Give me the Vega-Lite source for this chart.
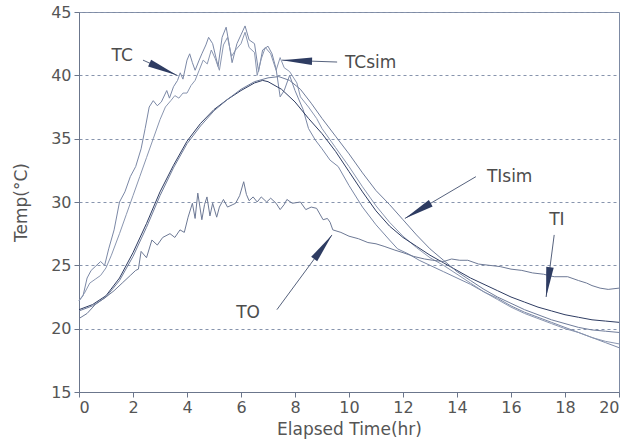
{
  "$schema": "https://vega.github.io/schema/vega-lite/v6.json",
  "width": 540,
  "height": 380,
  "autosize": "none",
  "padding": {"left": 79, "top": 12, "right": 14, "bottom": 56},
  "background": "#ffffff",
  "config": {
    "font": "DejaVu Sans",
    "view": {"stroke": "#7d8aa3", "strokeWidth": 1},
    "axis": {"labelColor": "#555555", "titleColor": "#555555", "domainColor": "#6b768c", "tickColor": "#6b768c", "labelFontSize": 16, "titleFontSize": 17, "titleFontWeight": "normal", "labelFont": "DejaVu Sans", "titleFont": "DejaVu Sans"}
  },
  "datasets": {
    "series": [
      {"s":"TC","x":0,"y":22.2},{"s":"TC","x":0.15,"y":22.6},{"s":"TC","x":0.3,"y":24.0},{"s":"TC","x":0.45,"y":24.6},{"s":"TC","x":0.6,"y":24.9},{"s":"TC","x":0.8,"y":25.3},{"s":"TC","x":0.95,"y":25.0},{"s":"TC","x":1.1,"y":26.3},{"s":"TC","x":1.3,"y":27.8},{"s":"TC","x":1.5,"y":30.0},{"s":"TC","x":1.7,"y":30.8},{"s":"TC","x":1.9,"y":32.0},{"s":"TC","x":2.1,"y":32.8},{"s":"TC","x":2.3,"y":34.2},{"s":"TC","x":2.45,"y":35.8},{"s":"TC","x":2.6,"y":37.5},{"s":"TC","x":2.75,"y":38.0},{"s":"TC","x":2.9,"y":37.6},{"s":"TC","x":3.05,"y":37.9},{"s":"TC","x":3.25,"y":38.8},{"s":"TC","x":3.35,"y":38.2},{"s":"TC","x":3.5,"y":39.1},{"s":"TC","x":3.65,"y":39.6},{"s":"TC","x":3.75,"y":40.2},{"s":"TC","x":3.85,"y":39.7},{"s":"TC","x":4.0,"y":41.2},{"s":"TC","x":4.1,"y":41.7},{"s":"TC","x":4.2,"y":41.0},{"s":"TC","x":4.3,"y":40.4},{"s":"TC","x":4.45,"y":41.2},{"s":"TC","x":4.55,"y":41.7},{"s":"TC","x":4.7,"y":42.4},{"s":"TC","x":4.8,"y":43.0},{"s":"TC","x":4.95,"y":42.5},{"s":"TC","x":5.05,"y":41.6},{"s":"TC","x":5.15,"y":40.7},{"s":"TC","x":5.3,"y":43.0},{"s":"TC","x":5.45,"y":43.8},{"s":"TC","x":5.55,"y":42.6},{"s":"TC","x":5.67,"y":41.0},{"s":"TC","x":5.85,"y":42.5},{"s":"TC","x":6.0,"y":43.2},{"s":"TC","x":6.15,"y":43.9},{"s":"TC","x":6.3,"y":42.8},{"s":"TC","x":6.5,"y":42.5},{"s":"TC","x":6.65,"y":40.3},{"s":"TC","x":6.8,"y":42.0},{"s":"TC","x":7.0,"y":42.3},{"s":"TC","x":7.15,"y":41.7},{"s":"TC","x":7.3,"y":40.5},{"s":"TC","x":7.45,"y":38.3},{"s":"TC","x":7.6,"y":38.8},{"s":"TC","x":7.8,"y":40.0},{"s":"TC","x":8.0,"y":38.8},{"s":"TC","x":8.3,"y":37.3},{"s":"TC","x":8.5,"y":35.8},{"s":"TC","x":8.75,"y":34.9},{"s":"TC","x":9.0,"y":34.2},{"s":"TC","x":9.3,"y":33.3},{"s":"TC","x":9.6,"y":32.8},{"s":"TC","x":10.0,"y":31.3},{"s":"TC","x":10.5,"y":29.6},{"s":"TC","x":11.0,"y":28.2},{"s":"TC","x":11.5,"y":27.0},{"s":"TC","x":11.8,"y":26.3},{"s":"TC","x":12.2,"y":25.9},{"s":"TC","x":12.6,"y":25.4},{"s":"TC","x":13.0,"y":25.0},{"s":"TC","x":13.5,"y":24.5},{"s":"TC","x":14.0,"y":24.0},{"s":"TC","x":14.5,"y":23.5},{"s":"TC","x":15.0,"y":22.9},{"s":"TC","x":15.5,"y":22.4},{"s":"TC","x":16.0,"y":21.8},{"s":"TC","x":16.5,"y":21.3},{"s":"TC","x":17.0,"y":20.9},{"s":"TC","x":17.5,"y":20.5},{"s":"TC","x":18.0,"y":20.1},{"s":"TC","x":18.5,"y":19.7},{"s":"TC","x":19.0,"y":19.3},{"s":"TC","x":19.5,"y":18.9},{"s":"TC","x":20.0,"y":18.5},
      {"s":"TCsim","x":0,"y":22.2},{"s":"TCsim","x":0.2,"y":22.8},{"s":"TCsim","x":0.4,"y":23.6},{"s":"TCsim","x":0.6,"y":23.9},{"s":"TCsim","x":0.8,"y":24.2},{"s":"TCsim","x":1.0,"y":24.8},{"s":"TCsim","x":1.2,"y":25.8},{"s":"TCsim","x":1.5,"y":27.5},{"s":"TCsim","x":1.75,"y":29.0},{"s":"TCsim","x":2.0,"y":30.5},{"s":"TCsim","x":2.25,"y":32.0},{"s":"TCsim","x":2.5,"y":33.5},{"s":"TCsim","x":2.75,"y":35.0},{"s":"TCsim","x":3.0,"y":36.5},{"s":"TCsim","x":3.2,"y":37.5},{"s":"TCsim","x":3.4,"y":38.0},{"s":"TCsim","x":3.55,"y":38.4},{"s":"TCsim","x":3.7,"y":38.2},{"s":"TCsim","x":3.85,"y":38.6},{"s":"TCsim","x":4.0,"y":38.6},{"s":"TCsim","x":4.15,"y":39.2},{"s":"TCsim","x":4.3,"y":39.6},{"s":"TCsim","x":4.45,"y":40.4},{"s":"TCsim","x":4.6,"y":41.2},{"s":"TCsim","x":4.75,"y":40.9},{"s":"TCsim","x":4.9,"y":42.0},{"s":"TCsim","x":5.05,"y":41.3},{"s":"TCsim","x":5.2,"y":40.4},{"s":"TCsim","x":5.35,"y":42.4},{"s":"TCsim","x":5.5,"y":43.0},{"s":"TCsim","x":5.65,"y":41.5},{"s":"TCsim","x":5.8,"y":42.0},{"s":"TCsim","x":6.0,"y":42.5},{"s":"TCsim","x":6.15,"y":43.4},{"s":"TCsim","x":6.3,"y":42.2},{"s":"TCsim","x":6.5,"y":41.8},{"s":"TCsim","x":6.6,"y":40.0},{"s":"TCsim","x":6.75,"y":41.3},{"s":"TCsim","x":6.9,"y":42.2},{"s":"TCsim","x":7.1,"y":41.7},{"s":"TCsim","x":7.3,"y":40.4},{"s":"TCsim","x":7.45,"y":41.4},{"s":"TCsim","x":7.6,"y":40.6},{"s":"TCsim","x":7.8,"y":40.3},{"s":"TCsim","x":8.07,"y":39.4},{"s":"TCsim","x":8.2,"y":38.3},{"s":"TCsim","x":8.5,"y":37.5},{"s":"TCsim","x":8.8,"y":36.6},{"s":"TCsim","x":9.0,"y":35.8},{"s":"TCsim","x":9.5,"y":34.3},{"s":"TCsim","x":10.0,"y":32.8},{"s":"TCsim","x":10.5,"y":31.2},{"s":"TCsim","x":11.0,"y":29.7},{"s":"TCsim","x":11.5,"y":28.4},{"s":"TCsim","x":12.0,"y":27.3},{"s":"TCsim","x":12.5,"y":26.4},{"s":"TCsim","x":13.0,"y":25.6},{"s":"TCsim","x":13.5,"y":25.0},{"s":"TCsim","x":14.0,"y":24.3},{"s":"TCsim","x":14.5,"y":23.6},{"s":"TCsim","x":15.0,"y":22.9},{"s":"TCsim","x":15.5,"y":22.3},{"s":"TCsim","x":16.0,"y":21.7},{"s":"TCsim","x":16.5,"y":21.2},{"s":"TCsim","x":17.0,"y":20.8},{"s":"TCsim","x":17.5,"y":20.4},{"s":"TCsim","x":18.0,"y":20.0},{"s":"TCsim","x":18.5,"y":19.7},{"s":"TCsim","x":19.0,"y":19.3},{"s":"TCsim","x":19.5,"y":19.0},{"s":"TCsim","x":20.0,"y":18.8},
      {"s":"TI","x":0,"y":21.5},{"s":"TI","x":0.5,"y":21.9},{"s":"TI","x":1.0,"y":22.6},{"s":"TI","x":1.5,"y":24.0},{"s":"TI","x":2.0,"y":26.0},{"s":"TI","x":2.5,"y":28.3},{"s":"TI","x":3.0,"y":30.8},{"s":"TI","x":3.5,"y":32.9},{"s":"TI","x":4.0,"y":34.8},{"s":"TI","x":4.5,"y":36.2},{"s":"TI","x":5.0,"y":37.3},{"s":"TI","x":5.5,"y":38.1},{"s":"TI","x":6.0,"y":38.8},{"s":"TI","x":6.5,"y":39.4},{"s":"TI","x":6.8,"y":39.6},{"s":"TI","x":7.0,"y":39.5},{"s":"TI","x":7.5,"y":38.9},{"s":"TI","x":8.0,"y":37.9},{"s":"TI","x":8.5,"y":36.6},{"s":"TI","x":9.0,"y":35.4},{"s":"TI","x":9.5,"y":34.0},{"s":"TI","x":10.0,"y":32.4},{"s":"TI","x":10.5,"y":30.8},{"s":"TI","x":11.0,"y":29.3},{"s":"TI","x":11.5,"y":28.1},{"s":"TI","x":12.0,"y":27.2},{"s":"TI","x":12.5,"y":26.5},{"s":"TI","x":13.0,"y":25.8},{"s":"TI","x":13.5,"y":25.2},{"s":"TI","x":14.0,"y":24.6},{"s":"TI","x":14.5,"y":24.0},{"s":"TI","x":15.0,"y":23.5},{"s":"TI","x":15.5,"y":23.0},{"s":"TI","x":16.0,"y":22.5},{"s":"TI","x":16.5,"y":22.1},{"s":"TI","x":17.0,"y":21.7},{"s":"TI","x":17.5,"y":21.4},{"s":"TI","x":18.0,"y":21.1},{"s":"TI","x":18.5,"y":20.9},{"s":"TI","x":19.0,"y":20.7},{"s":"TI","x":19.5,"y":20.6},{"s":"TI","x":20.0,"y":20.5},
      {"s":"TIsim","x":0,"y":21.4},{"s":"TIsim","x":0.5,"y":21.8},{"s":"TIsim","x":1.0,"y":22.5},{"s":"TIsim","x":1.5,"y":23.8},{"s":"TIsim","x":2.0,"y":25.7},{"s":"TIsim","x":2.5,"y":28.0},{"s":"TIsim","x":3.0,"y":30.5},{"s":"TIsim","x":3.5,"y":32.7},{"s":"TIsim","x":4.0,"y":34.6},{"s":"TIsim","x":4.5,"y":36.0},{"s":"TIsim","x":5.0,"y":37.2},{"s":"TIsim","x":5.5,"y":38.1},{"s":"TIsim","x":6.0,"y":38.9},{"s":"TIsim","x":6.5,"y":39.5},{"s":"TIsim","x":7.0,"y":39.8},{"s":"TIsim","x":7.4,"y":39.9},{"s":"TIsim","x":7.8,"y":39.6},{"s":"TIsim","x":8.2,"y":38.9},{"s":"TIsim","x":8.6,"y":37.8},{"s":"TIsim","x":9.0,"y":36.6},{"s":"TIsim","x":9.5,"y":35.2},{"s":"TIsim","x":10.0,"y":33.8},{"s":"TIsim","x":10.5,"y":32.3},{"s":"TIsim","x":11.0,"y":30.9},{"s":"TIsim","x":11.5,"y":29.8},{"s":"TIsim","x":12.0,"y":28.6},{"s":"TIsim","x":12.5,"y":27.4},{"s":"TIsim","x":13.0,"y":26.3},{"s":"TIsim","x":13.5,"y":25.4},{"s":"TIsim","x":14.0,"y":24.5},{"s":"TIsim","x":14.5,"y":23.8},{"s":"TIsim","x":15.0,"y":23.1},{"s":"TIsim","x":15.5,"y":22.5},{"s":"TIsim","x":16.0,"y":22.0},{"s":"TIsim","x":16.5,"y":21.5},{"s":"TIsim","x":17.0,"y":21.1},{"s":"TIsim","x":17.5,"y":20.7},{"s":"TIsim","x":18.0,"y":20.4},{"s":"TIsim","x":18.5,"y":20.1},{"s":"TIsim","x":19.0,"y":19.9},{"s":"TIsim","x":19.5,"y":19.8},{"s":"TIsim","x":20.0,"y":19.7},
      {"s":"TO","x":0,"y":20.8},{"s":"TO","x":0.3,"y":21.2},{"s":"TO","x":0.6,"y":21.9},{"s":"TO","x":1.0,"y":22.5},{"s":"TO","x":1.3,"y":23.0},{"s":"TO","x":1.6,"y":23.6},{"s":"TO","x":1.9,"y":24.2},{"s":"TO","x":2.1,"y":24.6},{"s":"TO","x":2.2,"y":24.7},{"s":"TO","x":2.3,"y":26.1},{"s":"TO","x":2.5,"y":25.6},{"s":"TO","x":2.7,"y":27.0},{"s":"TO","x":2.9,"y":26.6},{"s":"TO","x":3.1,"y":27.2},{"s":"TO","x":3.37,"y":27.5},{"s":"TO","x":3.55,"y":27.2},{"s":"TO","x":3.74,"y":27.8},{"s":"TO","x":3.9,"y":27.6},{"s":"TO","x":4.04,"y":28.8},{"s":"TO","x":4.2,"y":29.9},{"s":"TO","x":4.3,"y":28.7},{"s":"TO","x":4.4,"y":30.7},{"s":"TO","x":4.55,"y":28.6},{"s":"TO","x":4.65,"y":29.8},{"s":"TO","x":4.74,"y":30.4},{"s":"TO","x":4.85,"y":28.9},{"s":"TO","x":4.95,"y":29.9},{"s":"TO","x":5.1,"y":28.8},{"s":"TO","x":5.2,"y":29.6},{"s":"TO","x":5.35,"y":30.2},{"s":"TO","x":5.5,"y":29.6},{"s":"TO","x":5.7,"y":29.8},{"s":"TO","x":5.8,"y":29.9},{"s":"TO","x":5.95,"y":30.5},{"s":"TO","x":6.1,"y":31.6},{"s":"TO","x":6.2,"y":30.6},{"s":"TO","x":6.3,"y":30.1},{"s":"TO","x":6.45,"y":30.4},{"s":"TO","x":6.6,"y":30.0},{"s":"TO","x":6.75,"y":30.4},{"s":"TO","x":6.95,"y":30.0},{"s":"TO","x":7.1,"y":30.3},{"s":"TO","x":7.3,"y":29.9},{"s":"TO","x":7.45,"y":29.4},{"s":"TO","x":7.6,"y":29.8},{"s":"TO","x":7.7,"y":30.2},{"s":"TO","x":7.9,"y":29.9},{"s":"TO","x":8.2,"y":30.0},{"s":"TO","x":8.4,"y":29.4},{"s":"TO","x":8.6,"y":29.6},{"s":"TO","x":8.8,"y":29.5},{"s":"TO","x":9.04,"y":28.6},{"s":"TO","x":9.2,"y":28.7},{"s":"TO","x":9.3,"y":28.4},{"s":"TO","x":9.4,"y":27.8},{"s":"TO","x":9.7,"y":27.6},{"s":"TO","x":10.0,"y":27.3},{"s":"TO","x":10.35,"y":27.1},{"s":"TO","x":10.7,"y":26.8},{"s":"TO","x":11.0,"y":26.7},{"s":"TO","x":11.3,"y":26.5},{"s":"TO","x":11.7,"y":26.2},{"s":"TO","x":12.0,"y":26.0},{"s":"TO","x":12.4,"y":25.7},{"s":"TO","x":12.8,"y":25.5},{"s":"TO","x":13.1,"y":25.4},{"s":"TO","x":13.5,"y":25.3},{"s":"TO","x":13.8,"y":25.5},{"s":"TO","x":14.1,"y":25.4},{"s":"TO","x":14.4,"y":25.4},{"s":"TO","x":14.8,"y":25.1},{"s":"TO","x":15.2,"y":25.0},{"s":"TO","x":15.6,"y":24.9},{"s":"TO","x":16.0,"y":24.7},{"s":"TO","x":16.4,"y":24.6},{"s":"TO","x":16.8,"y":24.4},{"s":"TO","x":17.2,"y":24.3},{"s":"TO","x":17.6,"y":24.1},{"s":"TO","x":18.1,"y":24.1},{"s":"TO","x":18.5,"y":23.8},{"s":"TO","x":18.8,"y":23.6},{"s":"TO","x":19.0,"y":23.4},{"s":"TO","x":19.3,"y":23.2},{"s":"TO","x":19.6,"y":23.1},{"s":"TO","x":20.0,"y":23.2}
    ],
    "notes": [
      {"label":"TC","lx":1.6,"ly":41.5,"x":2.37,"y":41.2,"tx":3.63,"ty":40.0},
      {"label":"TCsim","lx":10.8,"ly":41.0,"x":9.56,"y":41.05,"tx":7.52,"ty":41.2},
      {"label":"TIsim","lx":15.95,"ly":32.0,"x":14.7,"y":32.0,"tx":12.07,"ty":28.7},
      {"label":"TI","lx":17.7,"ly":28.6,"x":17.6,"y":27.4,"tx":17.3,"ty":22.5},
      {"label":"TO","lx":6.26,"ly":21.2,"x":7.33,"y":21.5,"tx":9.37,"ty":27.4}
    ]
  },
  "layer": [
    {
      "data": {"name": "series"},
      "mark": {"type": "line", "interpolate": "linear"},
      "encoding": {
        "x": {"field": "x", "type": "quantitative", "scale": {"domain": [0, 20], "nice": false}, "axis": {"values": [0,2,4,6,8,10,12,14,16,18,20], "title": "Elapsed Time(hr)", "grid": false, "tickSize": 5, "labelPadding": 2, "titlePadding": 6}},
        "y": {"field": "y", "type": "quantitative", "scale": {"domain": [15, 45], "nice": false, "zero": false}, "axis": {"values": [15,20,25,30,35,40,45], "title": "Temp(°C)", "grid": true, "gridDash": [3, 3], "gridColor": "#8794ad", "gridWidth": 1, "tickSize": 5, "labelPadding": 3, "titlePadding": 20}},
        "color": {"field": "s", "type": "nominal", "scale": {"domain": ["TC","TCsim","TI","TIsim","TO"], "range": ["#7b88a6","#8a96b0","#2e3c62","#6f7c9a","#6d7995"]}, "legend": null},
        "strokeWidth": {"field": "s", "type": "nominal", "scale": {"domain": ["TC","TCsim","TI","TIsim","TO"], "range": [1, 1, 2.2, 1.1, 1]}, "legend": null},
        "detail": {"field": "s"}
      }
    },
    {
      "data": {"name": "notes"},
      "mark": {"type": "rule", "color": "#56627d", "strokeWidth": 1},
      "encoding": {
        "x": {"field": "x", "type": "quantitative"},
        "y": {"field": "y", "type": "quantitative"},
        "x2": {"field": "tx"},
        "y2": {"field": "ty"}
      }
    },
    {
      "data": {"name": "notes"},
      "transform": [{"filter": "datum.label === 'TC'"}],
      "mark": {"type": "point", "shape": "M0,0L0.25,2L-0.25,2Z", "filled": true, "size": 900, "angle": 114, "color": "#2e3c62", "opacity": 1},
      "encoding": {"x": {"field": "tx", "type": "quantitative"}, "y": {"field": "ty", "type": "quantitative"}}
    },
    {
      "data": {"name": "notes"},
      "transform": [{"filter": "datum.label === 'TCsim'"}],
      "mark": {"type": "point", "shape": "M0,0L0.25,2L-0.25,2Z", "filled": true, "size": 900, "angle": 272, "color": "#2e3c62", "opacity": 1},
      "encoding": {"x": {"field": "tx", "type": "quantitative"}, "y": {"field": "ty", "type": "quantitative"}}
    },
    {
      "data": {"name": "notes"},
      "transform": [{"filter": "datum.label === 'TIsim'"}],
      "mark": {"type": "point", "shape": "M0,0L0.25,2L-0.25,2Z", "filled": true, "size": 900, "angle": 239.5, "color": "#2e3c62", "opacity": 1},
      "encoding": {"x": {"field": "tx", "type": "quantitative"}, "y": {"field": "ty", "type": "quantitative"}}
    },
    {
      "data": {"name": "notes"},
      "transform": [{"filter": "datum.label === 'TI'"}],
      "mark": {"type": "point", "shape": "M0,0L0.25,2L-0.25,2Z", "filled": true, "size": 900, "angle": 187.4, "color": "#2e3c62", "opacity": 1},
      "encoding": {"x": {"field": "tx", "type": "quantitative"}, "y": {"field": "ty", "type": "quantitative"}}
    },
    {
      "data": {"name": "notes"},
      "transform": [{"filter": "datum.label === 'TO'"}],
      "mark": {"type": "point", "shape": "M0,0L0.25,2L-0.25,2Z", "filled": true, "size": 900, "angle": 36.4, "color": "#2e3c62", "opacity": 1},
      "encoding": {"x": {"field": "tx", "type": "quantitative"}, "y": {"field": "ty", "type": "quantitative"}}
    },
    {
      "data": {"name": "notes"},
      "mark": {"type": "text", "fontSize": 17, "color": "#4d4d4d", "align": "center", "baseline": "middle", "font": "DejaVu Sans"},
      "encoding": {
        "x": {"field": "lx", "type": "quantitative"},
        "y": {"field": "ly", "type": "quantitative"},
        "text": {"field": "label"}
      }
    }
  ]
}
